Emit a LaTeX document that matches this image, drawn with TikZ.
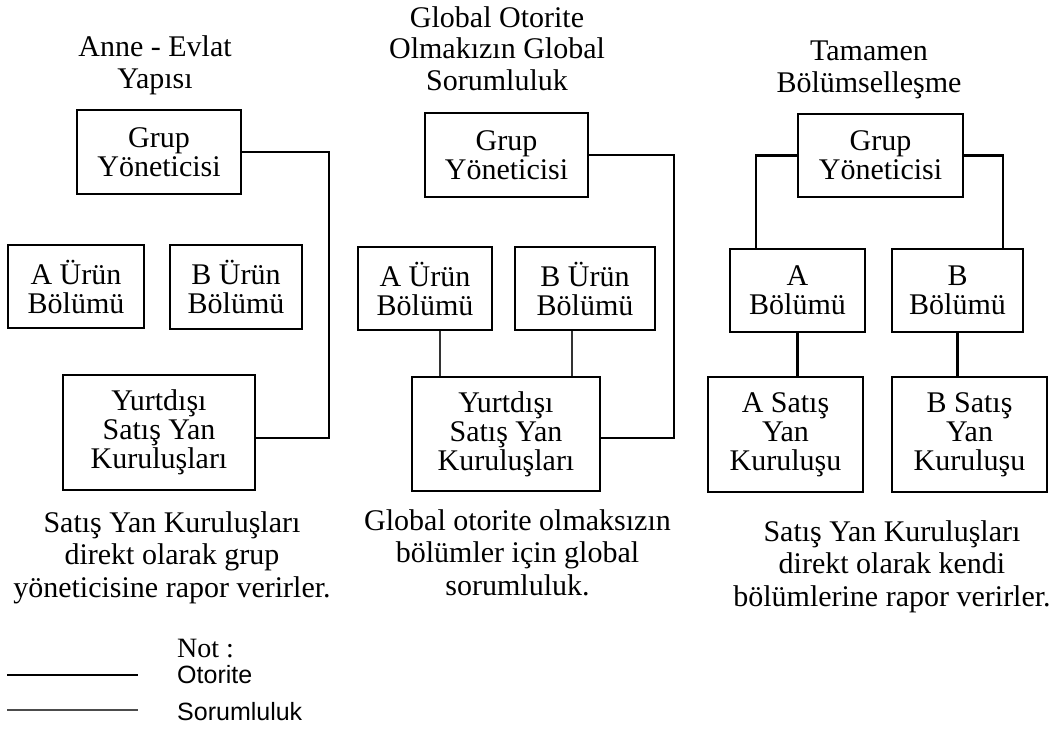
\documentclass[tikz,border=0pt]{standalone}
\usepackage{fontspec}
\setmainfont{Liberation Serif}
\newfontfamily\legendfont{Liberation Sans}
\begin{document}
\begin{tikzpicture}[x=1pt,y=-1pt,
  unit/.style={draw, line width=2.4pt, inner sep=0pt, align=center,
    font=\fontsize{30}{29}\selectfont},
  link/.style={line width=2.4pt},
  resp/.style={line width=2.4pt, draw=black!80},
  heading/.style={align=center, anchor=base, inner sep=0pt,
    font=\fontsize{30}{31.5}\selectfont},
  remark/.style={align=center, anchor=base, inner sep=0pt,
    font=\fontsize{30}{32.5}\selectfont},
  keytext/.style={anchor=base west, inner sep=0pt},
]
\useasboundingbox (0,0) rectangle (1058,732);

% ---------- Anne - Evlat Yapisi ----------
% multi-line labels are placed by the baseline of their last line
\node[heading] (lt) at (155,88) {Anne - Evlat\\Yapısı};
\node[unit, minimum width=164pt, minimum height=84pt] (lg) at (159,152) {Grup\\Yöneticisi};
\node[unit, minimum width=136pt, minimum height=83pt] (la) at (76,286.5) {A Ürün\\Bölümü};
\node[unit, minimum width=132pt, minimum height=84pt] (lb) at (236,287) {B Ürün\\Bölümü};
\node[unit, minimum width=192pt, minimum height=115pt] (ly) at (159,432.5) {Yurtdışı\\Satış Yan\\Kuruluşları};
\coordinate (lbend) at (329,438);
\draw[link] (lg.east) -| (lbend) -- (lbend -| ly.east);
\node[remark] (lc) at (172,597) {Satış Yan Kuruluşları\\direkt olarak grup\\yöneticisine rapor verirler.};

% ---------- Global otorite olmaksizin global sorumluluk ----------
\node[heading] (mt) at (497,90) {Global Otorite\\Olmakızın Global\\Sorumluluk};
\node[unit, minimum width=163pt, minimum height=84pt] (mg) at (506.5,155) {Grup\\Yöneticisi};
\node[unit, minimum width=134pt, minimum height=83pt] (ma) at (425,288.5) {A Ürün\\Bölümü};
\node[unit, minimum width=140pt, minimum height=83pt] (mb) at (585,288.5) {B Ürün\\Bölümü};
\node[unit, minimum width=188pt, minimum height=114pt] (my) at (506,434) {Yurtdışı\\Satış Yan\\Kuruluşları};
\coordinate (mbend) at (674,438);
\draw[link] (mg.east) -| (mbend) -- (mbend -| my.east);
\draw[resp] ([xshift=15pt]ma.south) -- ([xshift=15pt]ma.south |- my.north);
\draw[resp] ([xshift=-13pt]mb.south) -- ([xshift=-13pt]mb.south |- my.north);
\node[remark] (mc) at (517.5,595) {Global otorite olmaksızın\\bölümler için global\\sorumluluk.};

% ---------- Tamamen bolumsellesme ----------
\node[heading] (rt) at (869,92) {Tamamen\\Bölümselleşme};
\node[unit, minimum width=165pt, minimum height=83pt] (rg) at (880.5,155.5) {Grup\\Yöneticisi};
\node[unit, minimum width=135pt, minimum height=83pt] (ra) at (797.5,290.5) {A\\Bölümü};
\node[unit, minimum width=131pt, minimum height=83pt] (rb) at (957.5,290.5) {B\\Bölümü};
\node[unit, minimum width=155pt, minimum height=115pt] (rsa) at (785.5,434.5) {A Satış\\Yan\\Kuruluşu};
\node[unit, minimum width=155pt, minimum height=115pt] (rsb) at (969.5,434.5) {B Satış\\Yan\\Kuruluşu};
\draw[link] (rg.west) -| ([xshift=-41.5pt]ra.north);
\draw[link] (rg.east) -| ([xshift=45.5pt]rb.north);
\draw[link] (ra.south) -- (ra.south |- rsa.north);
\draw[link] (rb.south) -- (rb.south |- rsb.north);
\node[remark] (rc) at (892,606) {Satış Yan Kuruluşları\\direkt olarak kendi\\bölümlerine rapor verirler.};

% ---------- legend ----------
\node[keytext, font=\fontsize{28}{30}\selectfont] (knot) at (177,657) {Not :};
\node[keytext, font=\legendfont\fontsize{25}{27}\selectfont] (kaut) at (177,683) {Otorite};
\node[keytext, font=\legendfont\fontsize{25}{27}\selectfont] (kres) at (177,720) {Sorumluluk};
\coordinate (a1) at (7,675);
\coordinate (a2) at (138,675);
\coordinate (r1) at (7,710);
\coordinate (r2) at (138,710);
\draw[line width=2.4pt] (a1) -- (a2);
\draw[line width=2pt, draw=black!70] (r1) -- (r2);
\end{tikzpicture}
\end{document}
